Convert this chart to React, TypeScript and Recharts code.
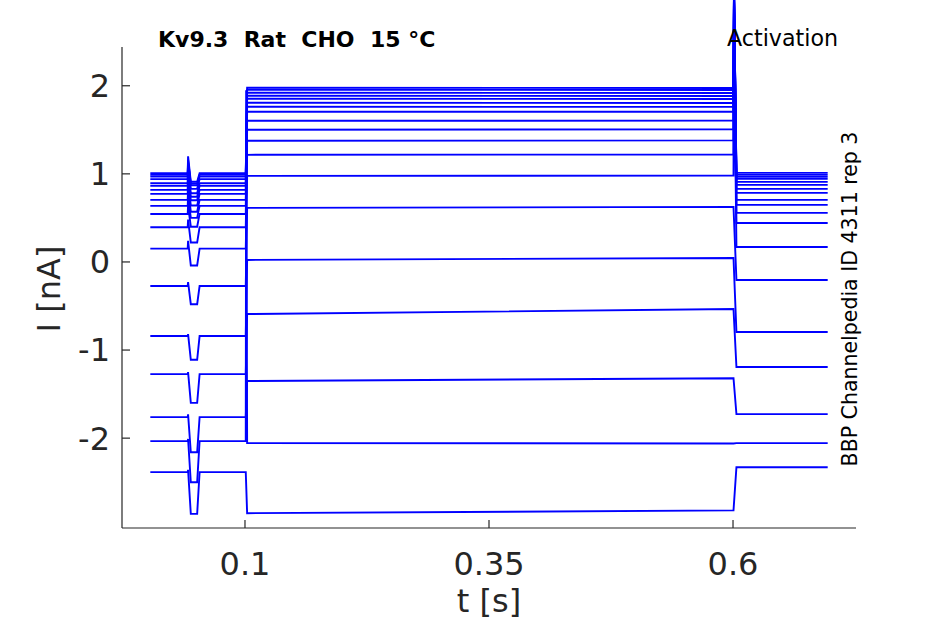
import React from 'react';
import { LineChart, Line, XAxis, YAxis } from 'recharts';

// key times of the protocol (s)
const keyTimes = [0.003, 0.0413, 0.0417, 0.0445, 0.051, 0.0535, 0.1008, 0.1012, 0.1022, 0.6005, 0.601, 0.6035, 0.697];

// holding current before the step (nA)
const baseline = [1.008, 0.989, 0.969, 0.94, 0.894, 0.864, 0.818, 0.773, 0.705, 0.636, 0.545, 0.394, 0.151, -0.273, -0.841, -1.273, -1.761, -2.034, -2.386];
// transient at onset of test pulse (nA)
const pulseSpike = [1.2, 1.16, 1.13, 1.1, 1.05, 1.0, 0.95, 0.9, 0.82, 0.74, 0.64, 0.48, 0.24, -0.23, -0.82, -1.25, -1.73, -2.01, -2.36];
// current during test pulse (nA)
const pulseLevel = [0.91, 0.89, 0.87, 0.83, 0.78, 0.74, 0.7, 0.64, 0.57, 0.5, 0.4, 0.22, -0.04, -0.48, -1.11, -1.6, -2.16, -2.5, -2.86];
// capacitive transient at step onset (nA)
const stepSpike = [null, null, null, null, null, null, null, null, null, null, null, null, null, null, null, null, null, 1.95, null];
// current at start / end of the activation step (nA)
const stepStart = [1.977, 1.955, 1.92, 1.886, 1.852, 1.807, 1.761, 1.705, 1.602, 1.5, 1.375, 1.216, 0.977, 0.614, 0.023, -0.591, -1.352, -2.057, -2.852];
const stepEnd = [1.975, 1.952, 1.918, 1.884, 1.85, 1.805, 1.76, 1.705, 1.605, 1.505, 1.38, 1.22, 0.98, 0.625, 0.045, -0.535, -1.32, -2.06, -2.82];
// transient at step offset (nA)
const offSpike = [3.1, 3.1, 3.1, 3.1, 3.1, 3.1, 3.1, 3.1, 3.05, 3.0, 2.9, 2.8, 2.6, null, null, null, null, null, null];
// tail current after the step (nA)
const tail = [1.011, 0.989, 0.966, 0.943, 0.909, 0.875, 0.83, 0.784, 0.705, 0.648, 0.557, 0.443, 0.17, -0.205, -0.795, -1.193, -1.727, -2.057, -2.33];

const xTicks = [0.1, 0.35, 0.6];
const yTicks = [-2, -1, 0, 1, 2];

type Pt = { t: number; v: number };

const traces: Pt[][] = baseline.map((b, i) => {
  const pts: Pt[] = [
    { t: keyTimes[0], v: b },
    { t: keyTimes[1], v: b },
    { t: keyTimes[2], v: pulseSpike[i] },
    { t: keyTimes[3], v: pulseLevel[i] },
    { t: keyTimes[4], v: pulseLevel[i] },
    { t: keyTimes[5], v: b },
    { t: keyTimes[6], v: b },
  ];
  const s1 = stepSpike[i];
  if (s1 != null) pts.push({ t: keyTimes[7], v: s1 });
  pts.push({ t: keyTimes[8], v: stepStart[i] });
  pts.push({ t: keyTimes[9], v: stepEnd[i] });
  const s2 = offSpike[i];
  if (s2 != null) pts.push({ t: keyTimes[10], v: s2 });
  pts.push({ t: keyTimes[11], v: tail[i] });
  pts.push({ t: keyTimes[12], v: tail[i] });
  return pts;
});

const FONT = '"DejaVu Sans", sans-serif';
const INK = '#262626';

export default function App() {
  return (
    <div style={{ position: 'absolute', left: 0, top: 0, width: 945, height: 624, background: '#fff' }}>
      <style>{'.recharts-surface g, .recharts-surface path, .recharts-line, .recharts-line-curve { clip-path: none !important; }'}</style>
      <LineChart width={945} height={624} margin={{ top: 47, right: 89, bottom: 0, left: 0 }}>
        <XAxis
          type="number"
          dataKey="t"
          domain={[-0.026, 0.726]}
          ticks={xTicks}
          tickFormatter={(v: number) => String(v)}
          height={96}
          tickSize={-8}
          tickMargin={32}
          axisLine={{ stroke: INK, strokeWidth: 1.2 }}
          tickLine={{ stroke: INK, strokeWidth: 1.2 }}
          tick={{ fill: INK, fontSize: 32, fontFamily: FONT }}
          allowDataOverflow
        />
        <YAxis
          type="number"
          dataKey="v"
          domain={[-3.02, 2.44]}
          ticks={yTicks}
          width={122}
          tickSize={-8}
          tickMargin={20}
          axisLine={{ stroke: INK, strokeWidth: 1.2 }}
          tickLine={{ stroke: INK, strokeWidth: 1.2 }}
          tick={{ fill: INK, fontSize: 32, fontFamily: FONT }}
          allowDataOverflow
        />
        {traces.map((pts, i) => (
          <Line
            key={i}
            data={pts}
            dataKey="v"
            type="linear"
            stroke="#0000ff"
            strokeWidth={1.9}
            dot={false}
            activeDot={false}
            isAnimationActive={false}
          />
        ))}
      </LineChart>
      <svg
        width={945}
        height={624}
        style={{ position: 'absolute', left: 0, top: 0, pointerEvents: 'none' }}
      >
        <text x={158} y={47} fontFamily={FONT} fontSize={22} fontWeight="bold" fill="#000" style={{ whiteSpace: 'pre' }}>
          {'Kv9.3  Rat  CHO  15 °C'}
        </text>
        <text x={727} y={46} fontFamily={FONT} fontSize={22.2} fill="#000">
          Activation
        </text>
        <text
          x={0}
          y={0}
          transform="translate(857,299) rotate(-90)"
          textAnchor="middle"
          fontFamily={FONT}
          fontSize={20.5}
          fill="#000"
        >
          BBP Channelpedia ID 4311 rep 3
        </text>
        <text
          x={0}
          y={0}
          transform="translate(60,289) rotate(-90)"
          textAnchor="middle"
          fontFamily={FONT}
          fontSize={32}
          fill={INK}
        >
          I [nA]
        </text>
        <text x={489} y={612} textAnchor="middle" fontFamily={FONT} fontSize={32} fill={INK}>
          t [s]
        </text>
      </svg>
    </div>
  );
}
